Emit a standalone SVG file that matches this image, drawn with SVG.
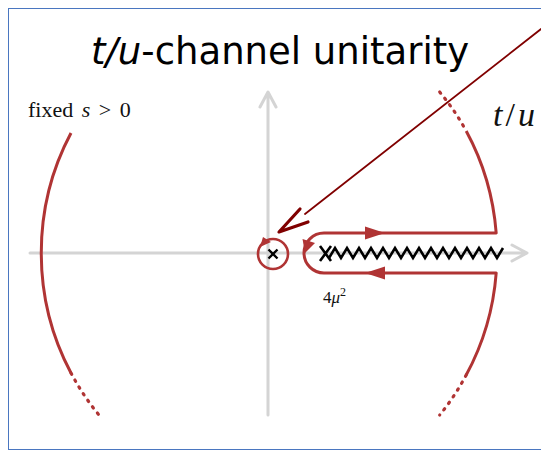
<svg xmlns="http://www.w3.org/2000/svg" width="541" height="453" viewBox="0 0 541 453">
<style>
.ax{fill:none;stroke:#d4d4d4;stroke-width:3;stroke-linecap:round;stroke-linejoin:round}
.ct{fill:none;stroke:#b03434;stroke-width:3;stroke-linejoin:round}
.dot{fill:none;stroke:#b03434;stroke-width:3.2;stroke-linecap:round;stroke-dasharray:1.5 6.5}
.ah{fill:#b03434;stroke:none}
.blk{fill:none;stroke:#000;stroke-width:2.6;stroke-linejoin:miter}
.ptr{fill:none;stroke:#800000;stroke-linecap:round;stroke-linejoin:round}
.tx{font-family:"Liberation Serif","DejaVu Serif",serif;fill:#111}
</style>
<rect x="8.5" y="8.5" width="560" height="441" fill="#fff" stroke="#4a76c0" stroke-width="1"/>
<text x="280" y="64" font-family="DejaVu Sans, sans-serif" font-size="37" text-anchor="middle" fill="#000"><tspan font-style="italic">t/u</tspan>-channel unitarity</text>
<g id="axes">
<path class="ax" d="M30,253 H526 M512,245 L527,253 L512,261"/>
<path class="ax" d="M268,415 V93 M260,107 L268,92 L276,107"/>
</g>
<g id="contour-left">
<path class="ct" d="M71,133 A228 243 0 0 0 71,373"/>
<path class="dot" d="M71,373 A228 243 0 0 0 99,415"/>
</g>
<g id="contour-right">
<path class="dot" d="M439.7,92 A228 243 0 0 1 466.2,131"/>
<path class="ct" d="M466.2,131 A228 243 0 0 1 496.2,233 H324 A20 20 0 0 0 324,273 H496.2 A228 243 0 0 1 466.2,375"/>
<path class="dot" d="M466.2,375 A228 243 0 0 1 439.7,415"/>
<path class="ah" d="M385,233 L365,226.5 L365,239.5 Z"/>
<path class="ah" d="M365,273 L385,266.5 L385,279.5 Z"/>
<path class="ah" d="M305,253 L302.5,239 L315,243 Z"/>
</g>
<g id="branch-cut">
<path class="blk" d="M320,246 L331,261 M320,261 L331,246"/>
<polyline class="blk" points="329,258 335,248 341,258 347,248 353,258 359,248 365,258 371,248 377,258 383,248 389,258 395,248 401,258 407,248 413,258 419,248 425,258 431,248 437,258 443,248 449,258 455,248 461,258 467,248 473,258 479,248 485,258 491,248 497,258 503,248"/>
</g>
<g id="pole">
<circle cx="273" cy="254" r="15" fill="none" stroke="#b03434" stroke-width="2.6"/>
<path class="ah" d="M260,247 L263,237 L271,242 Z"/>
<path d="M268.5,249.5 L277.5,258.5 M268.5,258.5 L277.5,249.5" stroke="#000" stroke-width="2.4" fill="none"/>
</g>
<g id="pointer">
<path class="ptr" stroke-width="1.8" d="M541,29 L305,214"/>
<path class="ptr" stroke-width="3.2" d="M300,209 L279,232 L308,222"/>
</g>
<text class="tx" x="28" y="117" font-size="22" word-spacing="3">fixed <tspan font-style="italic">s</tspan> &gt; 0</text>
<text class="tx" x="493" y="126" font-size="34" letter-spacing="3"><tspan font-style="italic">t</tspan>/<tspan font-style="italic">u</tspan></text>
<text class="tx" x="323" y="303" font-size="17">4<tspan font-style="italic">μ</tspan><tspan font-size="12" dy="-7">2</tspan></text>
</svg>
